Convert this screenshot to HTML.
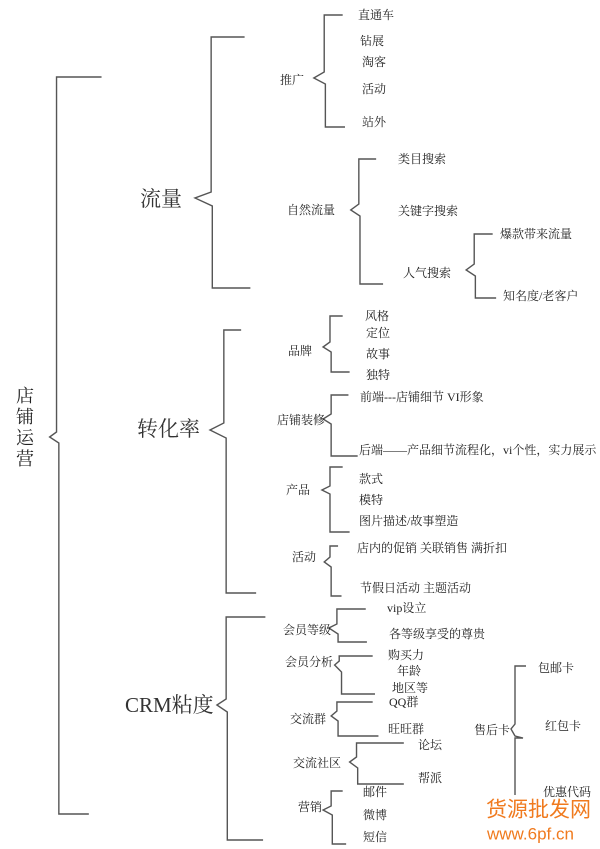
<!DOCTYPE html>
<html><head><meta charset="utf-8"><style>
html,body{margin:0;padding:0;background:#fff;}
svg{display:block;}
text{font-family:"Liberation Serif","Noto Serif CJK SC","Noto Sans CJK SC",serif;fill:#222;dominant-baseline:middle;font-size:12px;}
.l{fill:none;stroke:#555;stroke-width:1.4;}
.big{font-size:21px;fill:#333;}
.wm{font-family:"Liberation Sans","Noto Sans CJK SC",sans-serif;fill:#f07a1e;}
</style></head><body>
<svg width="600" height="849" viewBox="0 0 600 849">
<g transform="scale(1.1538,1)">
<path class="l" vector-effect="non-scaling-stroke" d="M88,77 H49 V432 L43,437 L51,443 V814 H77"/>
<path class="l" vector-effect="non-scaling-stroke" d="M212,37 H183 V192 L169,198 L184,206 V288 H217"/>
<path class="l" vector-effect="non-scaling-stroke" d="M297,15 H281 V72 L272,78 L282,84 V127 H299"/>
<path class="l" vector-effect="non-scaling-stroke" d="M326,159 H311 V204 L304,210 L312,216 V284 H332"/>
<path class="l" vector-effect="non-scaling-stroke" d="M427,234 H411 V264 L404,270 L412,276 V298 H430"/>
<path class="l" vector-effect="non-scaling-stroke" d="M209,330 H194 V423 L182,430 L196,438 V593 H222"/>
<path class="l" vector-effect="non-scaling-stroke" d="M297,316 H286 V342 L280,347 L287,352 V372 H303"/>
<path class="l" vector-effect="non-scaling-stroke" d="M302,395 H287 V414 L280,419 L287,424 V456 H310"/>
<path class="l" vector-effect="non-scaling-stroke" d="M297,467 H286 V486 L279,490 L286,494 V532 H303"/>
<path class="l" vector-effect="non-scaling-stroke" d="M293,546 H286 V557 L281,562 L287,567 V596 H296"/>
<path class="l" vector-effect="non-scaling-stroke" d="M230,617 H196 V699 L188,705 L197,712 V840 H228"/>
<path class="l" vector-effect="non-scaling-stroke" d="M317,609 H292 V624 L285,628 L293,634 V642 H318"/>
<path class="l" vector-effect="non-scaling-stroke" d="M323,656 H294 V661 L290,665 L296,672 V694 H325"/>
<path class="l" vector-effect="non-scaling-stroke" d="M323,702 H292 V711 L287,716 L293,721 V736 H328"/>
<path class="l" vector-effect="non-scaling-stroke" d="M350,743 H309 V757 L303,762 L310,768 V784 H350"/>
<path class="l" vector-effect="non-scaling-stroke" d="M297,791 H287 V806 L280,810 L288,815 V844 H300"/>
</g>
<path class="l" d="M526,666 H515 V724 L511,729 L515,736 L523,738 H515 V795"/>
<text x="16" y="398" style="font-size:18px">店</text>
<text x="16" y="419" style="font-size:18px">铺</text>
<text x="16" y="440" style="font-size:18px">运</text>
<text x="16" y="461" style="font-size:18px">营</text>
<text class="big" x="140" y="201">流量</text>
<text class="big" x="137" y="431">转化率</text>
<text class="big" x="125" y="707">CRM粘度</text>
<text x="280" y="81">推广</text>
<text x="358" y="16">直通车</text>
<text x="360" y="42">钻展</text>
<text x="362" y="63">淘客</text>
<text x="362" y="90">活动</text>
<text x="362" y="123">站外</text>
<text x="287" y="211">自然流量</text>
<text x="398" y="160">类目搜索</text>
<text x="398" y="212">关键字搜索</text>
<text x="403" y="274">人气搜索</text>
<text x="500" y="235">爆款带来流量</text>
<text x="503" y="297">知名度/老客户</text>
<text x="288" y="352">品牌</text>
<text x="365" y="317">风格</text>
<text x="366" y="334">定位</text>
<text x="366" y="355">故事</text>
<text x="366" y="376">独特</text>
<text x="277" y="421">店铺装修</text>
<text x="360" y="398">前端---店铺细节 VI形象</text>
<text x="359" y="451">后端——产品细节流程化，vi个性，实力展示</text>
<text x="286" y="491">产品</text>
<text x="359" y="480">款式</text>
<text x="359" y="501">模特</text>
<text x="359" y="522">图片描述/故事塑造</text>
<text x="292" y="558">活动</text>
<text x="357" y="549">店内的促销 关联销售 满折扣</text>
<text x="360" y="589">节假日活动 主题活动</text>
<text x="283" y="631">会员等级</text>
<text x="387" y="609">vip设立</text>
<text x="389" y="635">各等级享受的尊贵</text>
<text x="285" y="663">会员分析</text>
<text x="388" y="656">购买力</text>
<text x="397" y="672">年龄</text>
<text x="392" y="689">地区等</text>
<text x="290" y="720">交流群</text>
<text x="389" y="703">QQ群</text>
<text x="388" y="730">旺旺群</text>
<text x="293" y="764">交流社区</text>
<text x="418" y="746">论坛</text>
<text x="418" y="779">帮派</text>
<text x="298" y="808">营销</text>
<text x="363" y="793">邮件</text>
<text x="363" y="816">微博</text>
<text x="363" y="838">短信</text>
<text x="474" y="731">售后卡</text>
<text x="538" y="669">包邮卡</text>
<text x="545" y="727">红包卡</text>
<text x="543" y="793">优惠代码</text>
<text class="wm" x="486" y="811" style="font-size:21px">货源批发网</text>
<text class="wm" x="487" y="835" style="font-size:17px">www.6pf.cn</text>
</svg>
</body></html>
